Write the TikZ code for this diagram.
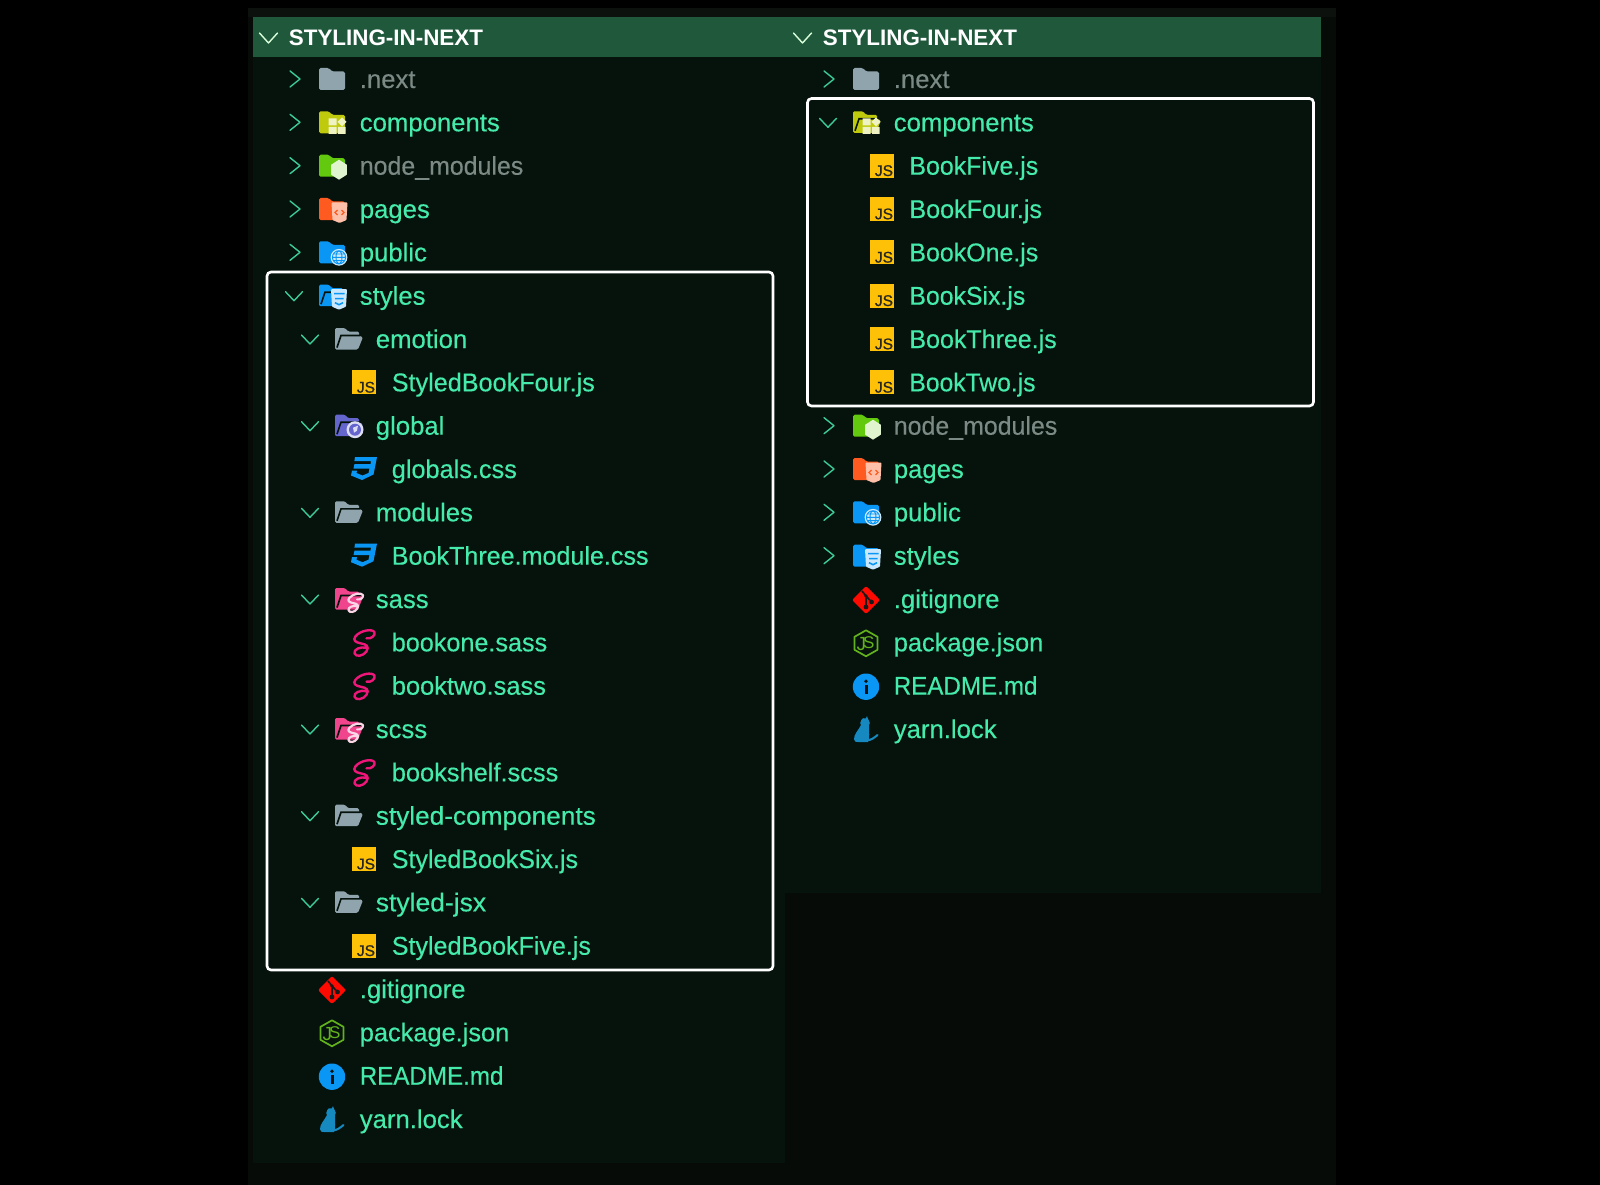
\documentclass[tikz,border=0pt]{standalone}
\usepackage{fontspec}
\setmainfont{Liberation Sans}
\newfontfamily\lblfont[RawFeature={embolden=0.3}]{Liberation Sans}
\newfontfamily\jsfont[RawFeature={embolden=0.8}]{Liberation Sans}
\definecolor{band}{HTML}{060B08}
\definecolor{panel}{HTML}{06130D}
\definecolor{head}{HTML}{20583C}
\definecolor{lbl}{HTML}{45EBAA}
\definecolor{dim}{HTML}{7C8A85}
\definecolor{chev}{HTML}{3CCB96}
\definecolor{fgrey}{HTML}{90A4AE}
\definecolor{flime}{HTML}{C0CA0C}
\definecolor{fgreen}{HTML}{62C90E}
\definecolor{forange}{HTML}{FF5A1F}
\definecolor{fblue}{HTML}{0A96F5}
\definecolor{fpurple}{HTML}{6466CE}
\definecolor{fpink}{HTML}{F0448C}
\definecolor{sassc}{HTML}{EE1678}
\definecolor{jsy}{HTML}{FFC107}
\definecolor{yarnc}{HTML}{1589C0}
\definecolor{pkgc}{HTML}{62B21C}
\tikzset{
  x=1pt,y=-1pt,
  lab/.style={anchor=base west,inner sep=0pt,font=\fontsize{25.7}{30}\lblfont,text=lbl},
  dimlab/.style={lab,text=dim},
  headlab/.style={anchor=base west,inner sep=0pt,font=\fontsize{22.4}{26}\selectfont\bfseries,text=white},
  chevline/.style={draw=chev,line width=1.4pt,line cap=round,line join=round},
  hilite/.style={draw=white,line width=2.6pt,rounded corners=4pt},
}
\newcommand{\sx}[2]{\scalebox{#1}[1]{#2}}
% chevrons: x = centre, y = row
\newcommand{\chevc}[2]{\draw[chevline] (#1-5,#2-9) -- (#1+5,#2-1) -- (#1-5,#2+7);}
\newcommand{\chevo}[2]{\draw[chevline] (#1-8.5,#2-5) -- (#1,#2+4) -- (#1+8.5,#2-5);}
% folders: x = left edge, y = row
\newcommand{\fclosed}[3]{\fill[#3,rounded corners=1.6pt] (#1,#2+10) -- (#1,#2-12) -- (#1+10,#2-12) -- (#1+13,#2-8.5) -- (#1+26,#2-8.5) -- (#1+26,#2+10) -- cycle;}
\newcommand{\fopen}[3]{%
  \fill[#3,rounded corners=1.4pt] (#1,#2+9.5) -- (#1,#2-12) -- (#1+10,#2-12) -- (#1+13,#2-8.5) -- (#1+24,#2-8.5) -- (#1+24,#2-4) -- (#1+28,#2-3) -- (#1+23,#2+9.5) -- cycle;
  \draw[panel,line width=1.6pt] (#1+2,#2+7.5) -- (#1+6,#2-4.5) -- (#1+25,#2-4.5);}
% badges, centre at (x,y)
\newcommand{\bshield}[3]{\fill[#3,rounded corners=.8pt] (#1-8,#2-10) -- (#1+8,#2-10) -- (#1+7,#2+7.5) -- (#1,#2+10.5) -- (#1-7,#2+7.5) -- cycle;}
\newcommand{\bglobe}[4]{%
  \fill[#3] (#1,#2) circle (8.4);
  \draw[#4,line width=.9pt] (#1,#2) circle (6.6) (#1-6.6,#2) -- (#1+6.6,#2) (#1,#2) ellipse (3 and 6.6) (#1-5.8,#2-3.3) -- (#1+5.8,#2-3.3) (#1-5.8,#2+3.3) -- (#1+5.8,#2+3.3);}
\newcommand{\bsquares}[3]{%
  \fill[#3] (#1-8.5,#2-7) rectangle (#1-.5,#2) (#1-8.5,#2+1.5) rectangle (#1-.5,#2+8.5) (#1+1,#2+1.5) rectangle (#1+8.5,#2+8.5)
    (#1+5,#2-8) -- (#1+9.5,#2-3.5) -- (#1+5,#2+1) -- (#1+.5,#2-3.5) -- cycle;}
\newcommand{\bhex}[3]{\fill[#3] (#1,#2-10) -- (#1+7.8,#2-5) -- (#1+7.8,#2+5) -- (#1,#2+10) -- (#1-7.8,#2+5) -- (#1-7.8,#2-5) -- cycle;}
% sass squiggle around (x,y), size factor, colour, width
\newcommand{\bsass}[4]{\begin{scope}[shift={(#1,#2)},scale=#3]
  \draw[#4,line cap=round,line join=round] (3,-5) .. controls (8,-4) and (12,-8) .. (11,-11) .. controls (9,-15) and (-3,-13) .. (-8,-7) .. controls (-11,-3) and (-8,-1) .. (-3,0) .. controls (3,1) and (6,3) .. (3,8) .. controls (0,13) and (-8,14) .. (-9,10) .. controls (-10,6) and (-3,3) .. (3,4.5);
\end{scope}}
% composed icons
\newcommand{\icnext}[2]{\fclosed{#1}{#2}{fgrey}}
\newcommand{\iccomp}[2]{\fclosed{#1}{#2}{flime}\bsquares{#1+18}{#2+2}{flime!25!white}}
\newcommand{\iccompo}[2]{\fopen{#1}{#2}{flime}\bsquares{#1+18}{#2+2}{flime!25!white}}
\newcommand{\icnode}[2]{\fclosed{#1}{#2}{fgreen}\bhex{#1+20}{#2+3}{fgreen!20!white}}
\newcommand{\icpages}[2]{\fclosed{#1}{#2}{forange}\bshield{#1+20.5}{#2+2.5}{forange!38!white}%
  \draw[forange,line width=1.1pt] (#1+18.5,#2) -- (#1+16,#2+2.5) -- (#1+18.5,#2+5) (#1+22.5,#2) -- (#1+25,#2+2.5) -- (#1+22.5,#2+5);}
\newcommand{\icpublic}[2]{\fclosed{#1}{#2}{fblue}\bglobe{#1+20}{#2+4}{fblue!20!white}{fblue}}
\newcommand{\cssmark}[3]{\draw[#3,line width=1.5pt] (#1-5,#2-5) -- (#1+5.5,#2-5) (#1-4,#2) -- (#1+4.5,#2) (#1-4,#2+4) -- (#1,#2+6) -- (#1+4,#2+4);}
\newcommand{\icstyles}[2]{\fclosed{#1}{#2}{fblue}\bshield{#1+20}{#2+2.5}{fblue!22!white}\cssmark{#1+20}{#2+2}{fblue}}
\newcommand{\icstyleso}[2]{\fopen{#1}{#2}{fblue}\bshield{#1+20}{#2+2.5}{fblue!22!white}\cssmark{#1+20}{#2+2}{fblue}}
\newcommand{\icgrey}[2]{\fopen{#1}{#2}{fgrey}}
\newcommand{\icglobal}[2]{\fopen{#1}{#2}{fpurple}\fill[fpurple!22!white] (#1+20,#2+3) circle (8.5);\fill[fpurple] (#1+20,#2+3) circle (6);\fill[fpurple!22!white] (#1+18,#2+1) -- (#1+23,#2-1) -- (#1+22,#2+4) -- (#1+19,#2+6) -- cycle;}
\newcommand{\icsassf}[2]{\fopen{#1}{#2}{fpink}\bsass{#1+20}{#2+3}{.72}{fpink!22!white,line width=2.2pt}}
\newcommand{\icjs}[2]{%
  \fill[jsy] (#1,#2-13) rectangle (#1+24,#2+11);
  \path (#1+23.2,#2+9.3) node[anchor=base east,inner sep=0pt,font=\fontsize{15.5}{16}\jsfont,text=black!85] {JS};}
\newcommand{\iccss}[2]{%
  \fill[fblue,even odd rule] (#1+4,#2-13) -- (#1+26,#2-13) -- (#1+22.5,#2+4.5) -- (#1+11,#2+10) -- (#1,#2+5.5) -- (#1+1,#2+0.5) -- (#1+6,#2+0.5) -- (#1+5.5,#2+3) -- (#1+11.5,#2+5.5) -- (#1+17.5,#2+3) -- (#1+18.5,#2-1.5) -- (#1+2.5,#2-1.5) -- (#1+3.5,#2-6) -- (#1+19.5,#2-6) -- (#1+20,#2-9) -- (#1+3.4,#2-9) -- cycle;}
\newcommand{\icsass}[2]{\bsass{#1+12.5}{#2}{1}{sassc,line width=2.4pt}}
\newcommand{\icgit}[2]{%
  \fill[red!92!orange,rounded corners=2pt] (#1+13,#2-14) -- (#1+27,#2) -- (#1+13,#2+14) -- (#1-1,#2) -- cycle;
  \draw[black!90,line width=1.7pt] (#1+9,#2-9) -- (#1+13,#2-4) -- (#1+13,#2+7) (#1+13,#2-4) -- (#1+18.5,#2+2);
  \fill[black!90] (#1+13,#2+7) circle (2.4) (#1+18.5,#2+2) circle (2.4) (#1+13,#2-4) circle (1.8);}
\newcommand{\icpkg}[2]{%
  \draw[pkgc,line width=1.7pt,line join=round] (#1+13,#2-13) -- (#1+24.5,#2-6.5) -- (#1+24.5,#2+6.5) -- (#1+13,#2+13) -- (#1+1.5,#2+6.5) -- (#1+1.5,#2-6.5) -- cycle;
  \path (#1+8.3,#2+1) node[inner sep=0pt,font=\fontsize{19}{19}\selectfont,text=pkgc] {J};
  \path (#1+15.8,#2-.5) node[inner sep=0pt,font=\fontsize{17}{17}\selectfont,text=pkgc] {S};}
\newcommand{\icinfo}[2]{%
  \fill[fblue] (#1+13,#2) circle (13.2);
  \fill[panel] (#1+13,#2-5.5) circle (1.9);
  \fill[panel] (#1+11.5,#2-1.5) rectangle (#1+14.5,#2+7);}
\newcommand{\icyarn}[2]{%
  \fill[yarnc] (#1+12,#2-7) circle (4.8);
  \fill[yarnc] (#1+8,#2-9) -- (#1+10,#2-12) -- (#1+12,#2-10) -- (#1+14,#2-13.8) -- (#1+16.5,#2-7) -- cycle;
  \fill[yarnc] (#1+8,#2-5) .. controls (#1+5,#2+1) and (#1+1,#2+4) .. (#1+1,#2+9) .. controls (#1+1,#2+12) and (#1+3,#2+12) .. (#1+5,#2+12) -- (#1+15,#2+12) .. controls (#1+17,#2+8) and (#1+16,#2+2) .. (#1+16,#2-5) -- cycle;
  \draw[yarnc,line width=2pt,line cap=round] (#1+14,#2+10.5) .. controls (#1+18,#2+10) and (#1+21,#2+8) .. (#1+24.5,#2+5);}
\begin{document}
\begin{tikzpicture}
\useasboundingbox (0,0) rectangle (1600,1185);
\fill[black] (0,0) rectangle (1600,1185);
\fill[band] (248,8) rectangle (1336,1185);
\fill[band!70!white!8!band] (248,8) rectangle (1336,17);
\fill[panel] (253,17) rectangle (785,1163);
\fill[panel] (785,17) rectangle (1321,893);
\fill[head] (253,17) rectangle (1321,57);
% headers
\node[headlab] (hl) at (288.7,45.3) {STYLING-IN-NEXT};
\node[headlab] (hr) at (822.7,45.3) {STYLING-IN-NEXT};
\draw[draw=white!85!green,line width=1.4pt,line cap=round,line join=round] (259.5,33) -- (268.5,43) -- (277.5,33);
\draw[draw=white!85!green,line width=1.4pt,line cap=round,line join=round] (793.5,33) -- (802.5,43) -- (811.5,33);
% LEFT TREE
\chevc{295}{80}   \icnext{319}{80}   \node[dimlab] (l1) at (359.6,88) {.next};
\chevc{295}{123.3}\iccomp{319}{123.3}\node[lab] (l2) at (359.6,131.3) {components};
\chevc{295}{166.7}\icnode{319}{166.7}\node[dimlab] (l3) at (359.6,174.7) {\sx{.97}{node\_modules}};
\chevc{295}{210}  \icpages{319}{210} \node[lab] (l4) at (359.6,218) {pages};
\chevc{295}{253.3}\icpublic{319}{253.3}\node[lab] (l5) at (359.6,261.3) {public};
\chevo{294}{296.7}\icstyleso{319}{296.7}\node[lab] (l6) at (359.6,304.7) {styles};
\chevo{310}{340}  \icgrey{335}{340}  \node[lab] (l7) at (375.6,348) {emotion};
\icjs{352}{383.3}                    \node[lab] (l8) at (391.6,391.3) {\sx{.98}{StyledBookFour.js}};
\chevo{310}{426.7}\icglobal{335}{426.7}\node[lab] (l9) at (375.6,434.7) {global};
\iccss{351}{470}                     \node[lab] (l10) at (391.6,478) {\sx{.984}{globals.css}};
\chevo{310}{513.3}\icgrey{335}{513.3}\node[lab] (l11) at (375.6,521.3) {modules};
\iccss{351}{556.7}                   \node[lab] (l12) at (391.6,564.7) {\sx{.977}{BookThree.module.css}};
\chevo{310}{600}  \icsassf{335}{600} \node[lab] (l13) at (375.6,608) {sass};
\icsass{351}{643.3}                  \node[lab] (l14) at (391.6,651.3) {\sx{.98}{bookone.sass}};
\icsass{351}{686.7}                  \node[lab] (l15) at (391.6,694.7) {\sx{.99}{booktwo.sass}};
\chevo{310}{730}  \icsassf{335}{730} \node[lab] (l16) at (375.6,738) {scss};
\icsass{351}{773.3}                  \node[lab] (l17) at (391.6,781.3) {\sx{.988}{bookshelf.scss}};
\chevo{310}{816.7}\icgrey{335}{816.7}\node[lab] (l18) at (375.6,824.7) {\sx{1.02}{styled-components}};
\icjs{352}{860}                      \node[lab] (l19) at (391.6,868) {\sx{.973}{StyledBookSix.js}};
\chevo{310}{903.3}\icgrey{335}{903.3}\node[lab] (l20) at (375.6,911.3) {\sx{1.03}{styled-jsx}};
\icjs{352}{946.7}                    \node[lab] (l21) at (391.6,954.7) {\sx{.975}{StyledBookFive.js}};
\icgit{319}{990}                     \node[lab] (l22) at (359.6,998) {.gitignore};
\icpkg{319}{1033.3}                  \node[lab] (l23) at (359.6,1041.3) {\sx{.987}{package.json}};
\icinfo{319}{1076.7}                 \node[lab] (l24) at (359.6,1084.7) {\sx{.94}{README.md}};
\icyarn{319}{1120}                   \node[lab] (l25) at (359.6,1128) {yarn.lock};
% RIGHT TREE
\chevc{829}{80}   \icnext{853}{80}   \node[dimlab] (r1) at (893.6,88) {.next};
\chevo{828}{123.3}\iccompo{853}{123.3}\node[lab] (r2) at (893.6,131.3) {components};
\icjs{870}{166.7}                    \node[lab] (r3) at (909.2,174.7) {\sx{.97}{BookFive.js}};
\icjs{870}{210}                      \node[lab] (r4) at (909.2,218) {\sx{.977}{BookFour.js}};
\icjs{870}{253.3}                    \node[lab] (r5) at (909.2,261.3) {\sx{.97}{BookOne.js}};
\icjs{870}{296.7}                    \node[lab] (r6) at (909.2,304.7) {\sx{.966}{BookSix.js}};
\icjs{870}{340}                      \node[lab] (r7) at (909.2,348) {\sx{.973}{BookThree.js}};
\icjs{870}{383.3}                    \node[lab] (r8) at (909.2,391.3) {\sx{.96}{BookTwo.js}};
\chevc{829}{426.7}\icnode{853}{426.7}\node[dimlab] (r9) at (893.6,434.7) {\sx{.97}{node\_modules}};
\chevc{829}{470}  \icpages{853}{470} \node[lab] (r10) at (893.6,478) {pages};
\chevc{829}{513.3}\icpublic{853}{513.3}\node[lab] (r11) at (893.6,521.3) {public};
\chevc{829}{556.7}\icstyles{853}{556.7}\node[lab] (r12) at (893.6,564.7) {styles};
\icgit{853}{600}                     \node[lab] (r13) at (893.6,608) {.gitignore};
\icpkg{853}{643.3}                   \node[lab] (r14) at (893.6,651.3) {\sx{.987}{package.json}};
\icinfo{853}{686.7}                  \node[lab] (r15) at (893.6,694.7) {\sx{.94}{README.md}};
\icyarn{853}{730}                    \node[lab] (r16) at (893.6,738) {yarn.lock};
% highlight frames
\draw[hilite] (267,272) rectangle (773,970);
\draw[hilite] (807.5,98.5) rectangle (1313.5,406);
\end{tikzpicture}
\end{document}
